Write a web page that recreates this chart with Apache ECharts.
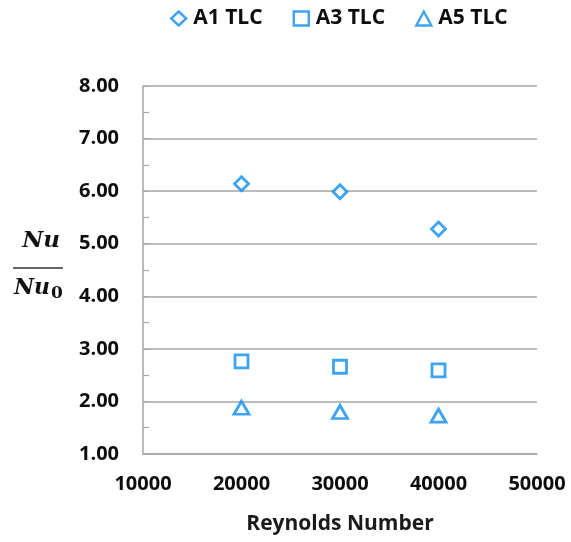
<!DOCTYPE html>
<html>
<head>
<meta charset="utf-8">
<script src="https://cdn.jsdelivr.net/npm/echarts@6/dist/echarts.min.js"></script>
<style>
  html, body { margin: 0; padding: 0; background: #fff; }
  #chart { width: 571px; height: 542px; }
</style>
</head>
<body>
<div id="chart"></div>
<script>
// Normalised Nusselt number vs Reynolds number for three TLC cases
const reynolds = [20000, 30000, 40000];
const seriesNames = ['A1 TLC', 'A3 TLC', 'A5 TLC'];
const a1Values = [6.14, 5.99, 5.28];
const a3Values = [2.76, 2.66, 2.59];
const a5Values = [1.88, 1.80, 1.73];
const xTicks = [10000, 20000, 30000, 40000, 50000];
const yTicks = [1, 2, 3, 4, 5, 6, 7, 8];

const blue = '#0c8cf0';
const gray = '#a6a6a6';
const font = '"Open Sans", Lato, sans-serif';
const serif = '"DejaVu Serif", "Liberation Serif", serif';

function pairs(xs, ys) {
  return xs.map((x, i) => [x, ys[i]]);
}

const symbols = ['diamond', 'rect', 'triangle'];
const sizes = [[14, 14], [13, 13], [15, 13]];
const valueSets = [a1Values, a3Values, a5Values];

const chart = echarts.init(document.getElementById('chart'));
chart.setOption({
  animation: false,
  legend: {
    top: 3,
    left: 165,
    itemGap: 30,
    itemWidth: 15,
    itemHeight: 14,
    textStyle: { fontFamily: font, fontWeight: 'bold', fontSize: 21, color: '#0d0d0d', padding: [0, 0, 0, 2] },
    itemStyle: { borderWidth: 2.4 },
    data: seriesNames.map((n, i) => ({ name: n, icon: symbols[i] }))
  },
  grid: { left: 143, right: 34, top: 86, bottom: 88 },
  xAxis: {
    type: 'value',
    min: xTicks[0],
    max: xTicks[xTicks.length - 1],
    interval: 10000,
    name: 'Reynolds Number',
    nameLocation: 'middle',
    nameGap: 60,
    nameTextStyle: { fontFamily: font, fontWeight: 'bold', fontSize: 21, color: '#1a1a1a' },
    axisLine: { lineStyle: { color: gray, width: 1.5 } },
    axisTick: { show: false },
    splitLine: { show: false },
    axisLabel: {
      margin: 20,
      fontFamily: font, fontWeight: 'bold', fontSize: 20, color: '#0d0d0d',
      formatter: v => String(v)
    }
  },
  yAxis: {
    type: 'value',
    min: yTicks[0],
    max: yTicks[yTicks.length - 1],
    interval: 1,
    axisLine: { show: true, lineStyle: { color: gray, width: 1.5 } },
    axisTick: { show: true, inside: true, length: 6, lineStyle: { color: gray } },
    minorTick: { show: true, splitNumber: 2, length: 6, lineStyle: { color: gray, width: 1.2 } },
    splitLine: { lineStyle: { color: gray, width: 1.5 } },
    axisLabel: {
      margin: 24,
      fontFamily: font, fontWeight: 'bold', fontSize: 20, color: '#0d0d0d',
      formatter: v => v.toFixed(2)
    }
  },
  graphic: [
    {
      type: 'text',
      style: {
        x: 41, y: 253, text: 'Nu', textAlign: 'center', textVerticalAlign: 'bottom',
        font: 'italic bold 23px ' + serif, fill: '#111'
      }
    },
    {
      type: 'line',
      shape: { x1: 13, y1: 268, x2: 63, y2: 268 },
      style: { stroke: '#333', lineWidth: 1.5 }
    },
    {
      type: 'text',
      style: {
        x: 14, y: 275,
        text: '{b|Nu}{s|0}',
        rich: {
          b: { font: 'italic bold 22px ' + serif, fill: '#111' },
          s: { font: 'bold 17px ' + serif, fill: '#111', padding: [10, 0, 0, 1] }
        }
      }
    }
  ],
  series: seriesNames.map((n, i) => ({
    name: n,
    type: 'scatter',
    symbol: symbols[i],
    symbolSize: sizes[i],
    itemStyle: { color: '#fff', borderColor: blue, borderWidth: 2.8 },
    data: pairs(reynolds, valueSets[i])
  }))
});
</script>
</body>
</html>
